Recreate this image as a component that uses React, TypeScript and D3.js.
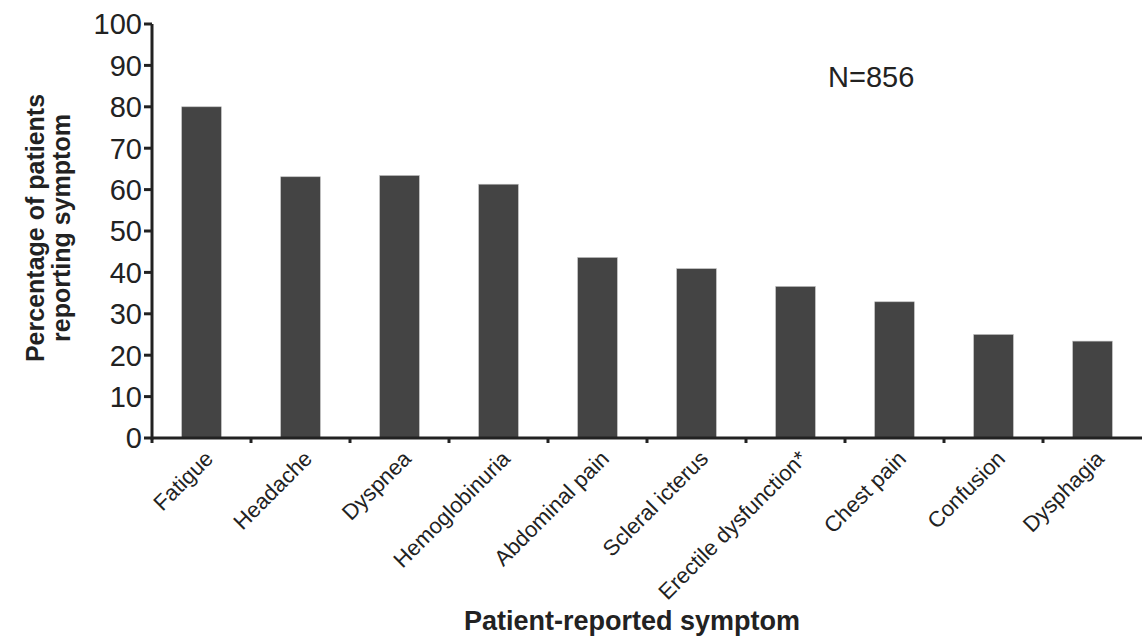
import { useEffect, useRef } from "react";
import * as d3 from "d3";

// Patient-reported symptoms, share of patients (%)
const symptoms = [
  "Fatigue",
  "Headache",
  "Dyspnea",
  "Hemoglobinuria",
  "Abdominal pain",
  "Scleral icterus",
  "Erectile dysfunction*",
  "Chest pain",
  "Confusion",
  "Dysphagia",
];
const percentages = [80, 63.1, 63.4, 61.3, 43.6, 40.9, 36.6, 32.9, 25.0, 23.4];
const yTicks = [0, 10, 20, 30, 40, 50, 60, 70, 80, 90, 100];

const WIDTH = 1143;
const HEIGHT = 644;
const MARGIN = { top: 24, right: 1, bottom: 206, left: 152 };
const INK = "#222";
const BAR = "#444";
const FONT = "'Liberation Sans', Arial, Helvetica, sans-serif";

export default function App() {
  const svgRef = useRef<SVGSVGElement>(null);

  useEffect(() => {
    document.body.style.margin = "0";
    const svgEl = svgRef.current;
    if (!svgEl) return;

    const x = d3
      .scaleBand<string>()
      .domain(symptoms)
      .range([MARGIN.left, WIDTH - MARGIN.right])
      .paddingInner(0.6)
      .paddingOuter(0.3);

    const y = d3
      .scaleLinear()
      .domain([0, 100])
      .range([HEIGHT - MARGIN.bottom, MARGIN.top]);

    const svg = d3.select(svgEl);
    svg.selectAll("*").remove();

    const baseY = y(0);

    // --- bars ----------------------------------------------------------
    svg
      .append("g")
      .selectAll("rect")
      .data(symptoms)
      .enter()
      .append("rect")
      .attr("x", (d) => x(d)!)
      .attr("y", (_d, i) => y(percentages[i]))
      .attr("width", x.bandwidth())
      .attr("height", (_d, i) => baseY - y(percentages[i]))
      .attr("fill", BAR)
      .attr("stroke", "#bbb")
      .attr("stroke-width", 0.6);

    // --- y axis --------------------------------------------------------
    const yAxis = svg.append("g");
    yAxis
      .append("line")
      .attr("x1", MARGIN.left)
      .attr("x2", MARGIN.left)
      .attr("y1", y(100))
      .attr("y2", baseY + 1.5)
      .attr("stroke", INK)
      .attr("stroke-width", 3);
    yAxis
      .selectAll("line.tick")
      .data(yTicks)
      .enter()
      .append("line")
      .attr("class", "tick")
      .attr("x1", MARGIN.left - 8)
      .attr("x2", MARGIN.left)
      .attr("y1", (d) => y(d))
      .attr("y2", (d) => y(d))
      .attr("stroke", INK)
      .attr("stroke-width", 3);
    yAxis
      .selectAll("text")
      .data(yTicks)
      .enter()
      .append("text")
      .attr("x", MARGIN.left - 10)
      .attr("y", (d) => y(d))
      .attr("dy", "0.36em")
      .attr("text-anchor", "end")
      .attr("fill", INK)
      .attr("font-family", FONT)
      .attr("font-size", 29)
      .text((d) => String(d));

    // --- x axis --------------------------------------------------------
    const xAxis = svg.append("g");
    xAxis
      .append("line")
      .attr("x1", MARGIN.left)
      .attr("x2", WIDTH - MARGIN.right)
      .attr("y1", baseY)
      .attr("y2", baseY)
      .attr("stroke", INK)
      .attr("stroke-width", 3);

    // ticks sit on band boundaries
    const edges = symptoms.map((d) => x(d)! - (x.step() - x.bandwidth()) / 2);
    xAxis
      .selectAll("line.tick")
      .data(edges)
      .enter()
      .append("line")
      .attr("class", "tick")
      .attr("x1", (d) => d)
      .attr("x2", (d) => d)
      .attr("y1", baseY)
      .attr("y2", baseY + 5)
      .attr("stroke", INK)
      .attr("stroke-width", 3);

    // rotated category labels, ending just right of the bar centre
    xAxis
      .selectAll("text")
      .data(symptoms)
      .enter()
      .append("text")
      .attr(
        "transform",
        (d) => `translate(${x(d)! + x.bandwidth() / 2 + 13},${baseY + 22}) rotate(-45)`,
      )
      .attr("text-anchor", "end")
      .attr("fill", INK)
      .attr("font-family", FONT)
      .attr("font-size", 22)
      .text((d) => d);

    // --- titles --------------------------------------------------------
    svg
      .append("text")
      .attr("x", 632)
      .attr("y", 630)
      .attr("text-anchor", "middle")
      .attr("fill", INK)
      .attr("font-family", FONT)
      .attr("font-weight", "bold")
      .attr("font-size", 27)
      .text("Patient-reported symptom");

    const yTitle = svg
      .append("text")
      .attr("transform", "translate(0,228) rotate(-90)")
      .attr("text-anchor", "middle")
      .attr("fill", INK)
      .attr("font-family", FONT)
      .attr("font-weight", "bold")
      .attr("font-size", 25);
    yTitle.append("tspan").attr("x", 0).attr("y", 44).text("Percentage of patients");
    yTitle.append("tspan").attr("x", 0).attr("y", 70).text("reporting symptom");

    svg
      .append("text")
      .attr("x", 828)
      .attr("y", 87)
      .attr("fill", INK)
      .attr("font-family", FONT)
      .attr("font-size", 29)
      .text("N=856");
  }, []);

  return (
    <svg
      ref={svgRef}
      width={WIDTH}
      height={HEIGHT}
      style={{ display: "block", background: "#fff" }}
    />
  );
}
